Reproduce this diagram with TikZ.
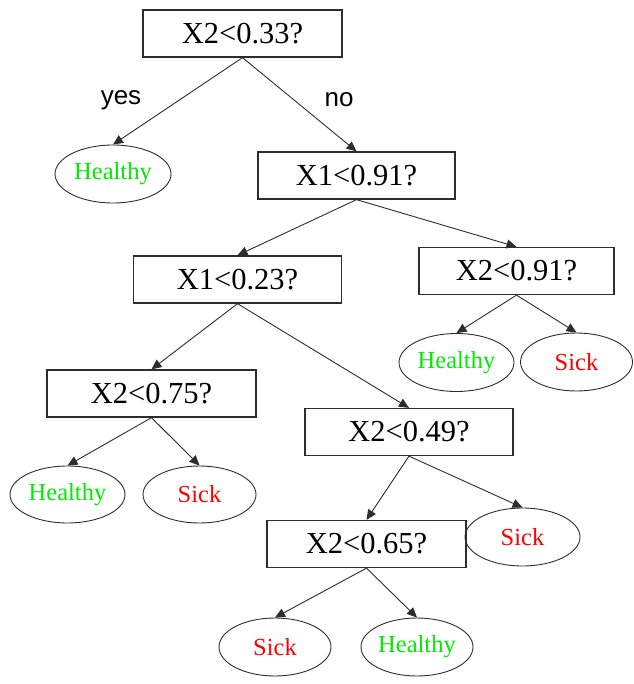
\documentclass[tikz,border=0pt]{standalone}
\usepackage{fontspec}
\setmainfont{Liberation Serif}
\newfontfamily\edgefont{Liberation Sans}
\usetikzlibrary{arrows.meta,shapes.geometric}
\definecolor{leafgreen}{RGB}{0,235,0}
\definecolor{leafred}{RGB}{255,0,0}
\definecolor{linegray}{RGB}{45,45,45}
\begin{document}
\begin{tikzpicture}[x=1pt,y=-1pt,
  test/.style={draw=linegray,line width=1.3pt,rectangle,inner sep=0pt,
    minimum height=47pt,font=\fontsize{30.5}{36}\selectfont},
  leaf/.style={draw=linegray,line width=0.9pt,ellipse,inner sep=0pt,
    minimum width=115pt,minimum height=58pt,font=\fontsize{24.5}{30}\selectfont},
  healthy/.style={leaf,text=leafgreen},
  sick/.style={leaf,text=leafred},
  branch/.style={draw=linegray,line width=0.9pt,-{Triangle[length=10pt,width=9pt]}},
  answer/.style={font=\edgefont\fontsize{26}{30}\selectfont}]
\useasboundingbox (0,0) rectangle (633,684);

% decision nodes
\node[test,minimum width=199pt] (r)  at (242.5,33.5) {X2<0.33?};
\node[test,minimum width=197pt] (a)  at (356.5,175.5) {X1<0.91?};
\node[test,minimum width=208pt] (b)  at (237.5,279.5) {X1<0.23?};
\node[test,minimum width=195pt] (c)  at (516.5,271) {X2<0.91?};
\node[test,minimum width=209pt] (d)  at (151.5,393.5) {X2<0.75?};
\node[test,minimum width=208pt] (e)  at (409,432) {X2<0.49?};
\node[test,minimum width=199pt] (f)  at (366.5,544) {X2<0.65?};

% leaves
\node[healthy,minimum width=116pt] (h1) at (113,174) {Healthy};
\node[healthy] (h2) at (456.5,362.5) {Healthy};
\node[sick,minimum width=112pt] (s2) at (576.5,362) {Sick};
\node[healthy,minimum height=57pt] (h3) at (67.5,494.5) {Healthy};
\node[sick,minimum width=113pt,minimum height=57pt] (s3) at (199.5,494.5) {Sick};
\node[sick] (s4) at (522.5,537) {Sick};
\node[sick,minimum width=112pt] (s5) at (275,647) {Sick};
\node[healthy,minimum width=112pt] (h5) at (417,647) {Healthy};

% branch labels
\node[answer] (yes) at (121,100) {yes};
\node[answer] (no)  at (339,100) {no};

% branches
\draw[branch] (r.south) -- (h1.north);
\draw[branch] (r.south) -- (a.north);
\draw[branch] (a.south) -- (b.north);
\draw[branch] (a.south) -- (c.north);
\draw[branch] (c.south) -- (h2.north);
\draw[branch] (c.south) -- (s2.north);
\draw[branch] (b.south) -- (d.north);
\draw[branch] (b.south) -- (e.north);
\draw[branch] (d.south) -- (h3.north);
\draw[branch] (d.south) -- (s3.north);
\draw[branch] (e.south) -- (f.north);
\draw[branch] (e.south) -- (s4.north);
\draw[branch] (f.south) -- (s5.north);
\draw[branch] (f.south) -- (h5.north);
\end{tikzpicture}
\end{document}
